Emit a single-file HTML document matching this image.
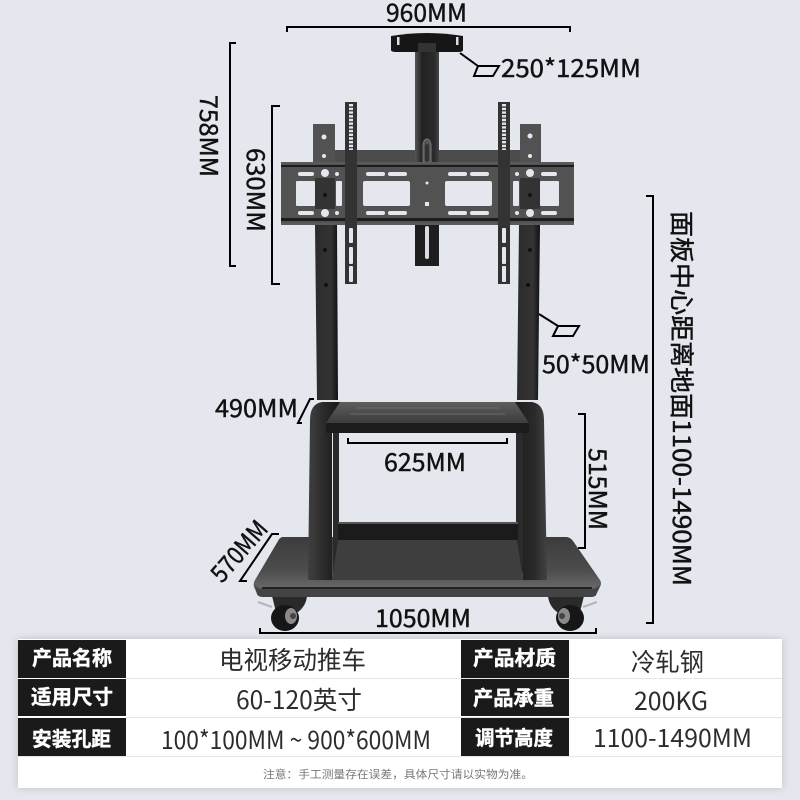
<!DOCTYPE html>
<html><head><meta charset="utf-8"><style>
html,body{margin:0;padding:0;background:#e4e8ee}
svg{display:block}
text{font-family:"Noto Sans CJK SC","Liberation Sans",sans-serif}
.d{font-size:24.5px;fill:#111;stroke:#111;stroke-width:.45}
.l{font-size:20px;font-weight:700;fill:#fff;stroke:#fff;stroke-width:.4}
.v{font-size:25px;fill:#2c2c2c}
.dim{fill:none;stroke:#000;stroke-width:2}
</style></head><body>
<svg width="800" height="800" viewBox="0 0 800 800" xmlns="http://www.w3.org/2000/svg">
<defs>
<linearGradient id="col" x1="0" x2="1" y1="0" y2="0"><stop offset="0" stop-color="#555"/><stop offset=".3" stop-color="#222"/><stop offset=".8" stop-color="#2a2a2a"/><stop offset="1" stop-color="#444"/></linearGradient>
<linearGradient id="up" x1="0" x2="1" y1="0" y2="0"><stop offset="0" stop-color="#2b2b2b"/><stop offset=".7" stop-color="#333"/><stop offset="1" stop-color="#111"/></linearGradient>
<linearGradient id="base" x1="0" x2="0" y1="0" y2="1"><stop offset="0" stop-color="#3c3c3c"/><stop offset=".55" stop-color="#4c4c4c"/><stop offset="1" stop-color="#767676"/></linearGradient>
<linearGradient id="shelf" x1="0" x2="0" y1="0" y2="1"><stop offset="0" stop-color="#5e5e5e"/><stop offset="1" stop-color="#2c2c2c"/></linearGradient>
<linearGradient id="leg" x1="0" x2="1" y1="0" y2="0"><stop offset="0" stop-color="#404040"/><stop offset=".6" stop-color="#262626"/><stop offset="1" stop-color="#181818"/></linearGradient>
<linearGradient id="legr" x1="0" x2="1" y1="0" y2="0"><stop offset="0" stop-color="#1c1c1c"/><stop offset=".6" stop-color="#2a2a2a"/><stop offset="1" stop-color="#424242"/></linearGradient>
<filter id="sh" x="-5%" y="-20%" width="110%" height="140%"><feDropShadow dx="0" dy="0" stdDeviation="4" flood-color="#000" flood-opacity=".18"/></filter>
</defs>
<rect width="800" height="800" fill="#e4e8ee"/>

<!-- uprights -->
<path d="M315 225H337L338 400H317Z" fill="url(#up)"/>
<path d="M519 225H540L538 400H517Z" fill="url(#up)"/>
<rect x="313" y="124" width="22" height="40" fill="#525252"/>
<rect x="520" y="124" width="21" height="40" fill="#525252"/>
<rect x="335" y="150" width="185" height="13" fill="#4c4c4c"/>
<!-- column -->
<rect x="415" y="50" width="24" height="113" fill="url(#col)"/>
<rect x="415" y="224" width="24" height="42" fill="#1e1e1e"/>
<rect x="425" y="226" width="4" height="33" rx="2" fill="#d8dce2"/>
<path d="M423 162V145a4 6 0 0 1 8 0V162Z" fill="#555" stroke="#777" stroke-width="1"/>
<rect x="425" y="144" width="4" height="18" rx="2" fill="#333"/>
<!-- top bracket -->
<path d="M391 36Q427 30 463 36V50Q463 52 458 52H396Q391 52 391 50Z" fill="#161616"/>
<rect x="397" y="37" width="2.5" height="8" fill="#ddd"/><rect x="456" y="37" width="2.5" height="8" fill="#ddd"/>
<rect x="418" y="43" width="18" height="9" fill="#333"/>

<!-- panel -->
<rect x="281" y="162" width="293" height="63" fill="#525252"/>
<rect x="281" y="162" width="293" height="2" fill="#5a5a5a"/>
<rect x="281" y="165" width="293" height="2" fill="#1c1c1c"/>
<rect x="281" y="218" width="293" height="3" fill="#1c1c1c"/>
<rect x="281" y="223" width="293" height="2" fill="#5a5a5a"/>
<rect x="315" y="178" width="20" height="31" fill="#333"/>
<rect x="520" y="178" width="20" height="31" fill="#333"/>
<g fill="#e4e8ee">
<rect x="296" y="181" width="19" height="25" rx="1"/><rect x="336" y="181" width="6" height="25" rx="1"/>
<rect x="363" y="181" width="47" height="25" rx="2"/><rect x="445" y="181" width="47" height="25" rx="2"/>
<rect x="513" y="181" width="6" height="25" rx="1"/><rect x="540" y="181" width="19" height="25" rx="1"/>
<rect x="298" y="172" width="16" height="4" rx="2"/><rect x="366" y="172" width="19" height="4" rx="2"/><rect x="388" y="172" width="19" height="4" rx="2"/><rect x="448" y="172" width="19" height="4" rx="2"/><rect x="470" y="172" width="19" height="4" rx="2"/><rect x="541" y="172" width="16" height="4" rx="2"/>
<rect x="298" y="211" width="16" height="4" rx="2"/><rect x="366" y="211" width="19" height="4" rx="2"/><rect x="388" y="211" width="19" height="4" rx="2"/><rect x="448" y="211" width="19" height="4" rx="2"/><rect x="470" y="211" width="19" height="4" rx="2"/><rect x="541" y="211" width="16" height="4" rx="2"/>
<circle cx="325" cy="173" r="4"/><circle cx="325" cy="213" r="4"/><circle cx="530" cy="173" r="4"/><circle cx="530" cy="213" r="4"/>
<circle cx="337" cy="174" r="2"/><circle cx="337" cy="213" r="2"/><circle cx="517" cy="174" r="2"/><circle cx="517" cy="213" r="2"/>
<circle cx="427" cy="183" r="1.5"/><rect x="425" y="202" width="4" height="4"/>
<circle cx="324" cy="137" r="2.5"/><circle cx="324" cy="156" r="2"/><circle cx="530" cy="136" r="2.5"/><circle cx="530" cy="156" r="2"/>
</g>
<g fill="#111"><circle cx="325" cy="195" r="2"/><circle cx="530" cy="195" r="2"/><circle cx="325" cy="250" r="2"/><circle cx="326" cy="285" r="2"/><circle cx="530" cy="250" r="2"/><circle cx="528" cy="285" r="2"/></g>
<!-- vertical strips -->
<rect x="345" y="102" width="12" height="182" fill="#333"/>
<rect x="498" y="102" width="12" height="182" fill="#333"/>
<path d="M351 104V150M504 104V150" stroke="#e4e8ee" stroke-width="4" stroke-dasharray="2.4 1.3" fill="none"/>
<g fill="#e4e8ee">
<rect x="349" y="228" width="4" height="15" rx="1"/><rect x="349" y="247" width="4" height="17" rx="1"/><rect x="349" y="266" width="4" height="16" rx="1"/>
<rect x="502" y="228" width="4" height="15" rx="1"/><rect x="502" y="247" width="4" height="17" rx="1"/><rect x="502" y="266" width="4" height="16" rx="1"/>
</g>

<!-- wheels -->
<g><path d="M272 596L276 612H298Q306 606 307 596Z" fill="#2a2a2a"/><ellipse cx="285" cy="618" rx="14" ry="13" fill="#161616"/><ellipse cx="291" cy="616" rx="6" ry="8" fill="#8a8a8a"/><circle cx="293" cy="616" r="3" fill="#444"/><path d="M258 602L272 607" stroke="#b5b5b5" stroke-width="2"/></g>
<g><path d="M548 596Q549 606 557 612H580L584 596Z" fill="#2a2a2a"/><ellipse cx="570" cy="618" rx="14" ry="13" fill="#161616"/><ellipse cx="564" cy="616" rx="6" ry="8" fill="#8a8a8a"/><circle cx="562" cy="616" r="3" fill="#444"/><path d="M597 602L583 607" stroke="#b5b5b5" stroke-width="2"/></g>
<!-- base -->
<path d="M283 537H566Q570 537 573 541L600 580Q602 583 600 587L596 595Q595 597 590 597H264Q258 597 257 594L254 587Q253 583 255 580L278 541Q280 537 283 537Z" fill="url(#base)"/>
<path d="M254 583Q256 589 264 589H590Q598 589 601 583L596 595Q595 597 590 597H264Q258 597 257 594Z" fill="#444"/>
<rect x="262" y="587" width="330" height="2" fill="#222"/>
<!-- crossbar + inner legs -->
<rect x="333" y="433" width="6" height="140" fill="#2a2a2a"/>
<rect x="516" y="433" width="7" height="140" fill="#2a2a2a"/>
<rect x="338" y="523" width="180" height="17" fill="#1b1b1b"/>
<rect x="338" y="522" width="180" height="2" fill="#555"/>
<path d="M338 540H517L523 580H332Z" fill="#3e3e3e"/>
<!-- legs -->
<path d="M308 580L310 420Q310 404 322 402H340V433H332V580Z" fill="url(#leg)"/>
<path d="M547 580L544 420Q544 404 532 402H515V433H523V580Z" fill="url(#legr)"/>
<!-- shelf -->
<path d="M340 402H515L529 423V433H326V423Z" fill="url(#shelf)"/>
<rect x="326" y="423" width="203" height="10" rx="1" fill="#1b1b1b"/>
<path d="M356 408H499M350 414H505" stroke="#6a6a6a" stroke-width="1" fill="none"/>

<!-- dimensions -->
<path class="dim" d="M287 32V27H570V32"/>
<path class="dim" d="M236 43H230V266H236"/>
<path class="dim" d="M280 106H272V284H280" stroke-width="1.6"/>
<path class="dim" d="M646 196H653V623H646"/>
<path class="dim" d="M578 414H585V548H578"/>
<path class="dim" d="M260 628V633H596V628"/>
<path class="dim" d="M348 438V443H507V438"/>
<path class="dim" d="M279 534H272L240 581H247" stroke-width="1.6"/>
<path class="dim" d="M314 399H310L298 423H302" stroke-width="1.6"/>
<path class="dim" d="M460 53L478 66H499L493 76H474L478 66" stroke-width="1.8"/>
<path class="dim" d="M539 314L558 326H579L573 336H553L558 326" stroke-width="1.8"/>

<text class="d" x="386" y="21.5" textLength="81" lengthAdjust="spacingAndGlyphs">960MM</text>
<text class="d" x="501" y="77" textLength="140" lengthAdjust="spacingAndGlyphs">250*125MM</text>
<text class="d" x="542" y="373" textLength="108" lengthAdjust="spacingAndGlyphs">50*50MM</text>
<text class="d" x="215" y="417" textLength="83" lengthAdjust="spacingAndGlyphs">490MM</text>
<text class="d" x="384" y="471" textLength="82" lengthAdjust="spacingAndGlyphs">625MM</text>
<text class="d" x="375" y="627" textLength="96" lengthAdjust="spacingAndGlyphs">1050MM</text>
<text class="d" transform="translate(200 95) rotate(90)" textLength="82" lengthAdjust="spacingAndGlyphs">758MM</text>
<text class="d" transform="translate(247 148) rotate(90)" textLength="84" lengthAdjust="spacingAndGlyphs">630MM</text>
<text class="d" transform="translate(589 448) rotate(90)" textLength="82" lengthAdjust="spacingAndGlyphs">515MM</text>
<text class="d" transform="translate(673 211) rotate(90)" textLength="375" lengthAdjust="spacingAndGlyphs">面板中心距离地面1100-1490MM</text>
<text class="d" transform="translate(222 584) rotate(-49)" textLength="72" lengthAdjust="spacingAndGlyphs">570MM</text>

<!-- table -->
<rect x="18" y="639" width="764" height="149" fill="#fff" filter="url(#sh)"/>
<g fill="#1a1a1a">
<rect x="18" y="640" width="108" height="38"/><rect x="18" y="679" width="108" height="37"/><rect x="18" y="718" width="108" height="38"/>
<rect x="461" y="640" width="108" height="38"/><rect x="461" y="679" width="108" height="37"/><rect x="461" y="718" width="108" height="38"/>
</g>
<path d="M126 678.5H782M126 717.5H782M18 756.5H782" stroke="#e6e6e6" stroke-width="1"/>
<text class="l" x="32" y="665" textLength="80" lengthAdjust="spacingAndGlyphs">产品名称</text>
<text class="l" x="473" y="665" textLength="83" lengthAdjust="spacingAndGlyphs">产品材质</text>
<text class="l" x="31" y="704" textLength="82" lengthAdjust="spacingAndGlyphs">适用尺寸</text>
<text class="l" x="473" y="705" textLength="81" lengthAdjust="spacingAndGlyphs">产品承重</text>
<text class="l" x="32" y="746" textLength="79" lengthAdjust="spacingAndGlyphs">安装孔距</text>
<text class="l" x="475" y="745" textLength="78" lengthAdjust="spacingAndGlyphs">调节高度</text>
<text class="v" x="219" y="669" textLength="147" lengthAdjust="spacingAndGlyphs">电视移动推车</text>
<text class="v" x="631" y="671" textLength="73" lengthAdjust="spacingAndGlyphs">冷轧钢</text>
<text class="v" x="236" y="709" textLength="126" lengthAdjust="spacingAndGlyphs">60-120英寸</text>
<text class="v" x="634" y="710" textLength="74" lengthAdjust="spacingAndGlyphs">200KG</text>
<text class="v" x="161" y="749" textLength="270" lengthAdjust="spacingAndGlyphs">100*100MM ~ 900*600MM</text>
<text class="v" x="593" y="747" textLength="159" lengthAdjust="spacingAndGlyphs">1100-1490MM</text>
<text x="263" y="778" font-size="11" fill="#777" textLength="270" lengthAdjust="spacingAndGlyphs">注意：手工测量存在误差，具体尺寸请以实物为准。</text>
</svg>
</body></html>
